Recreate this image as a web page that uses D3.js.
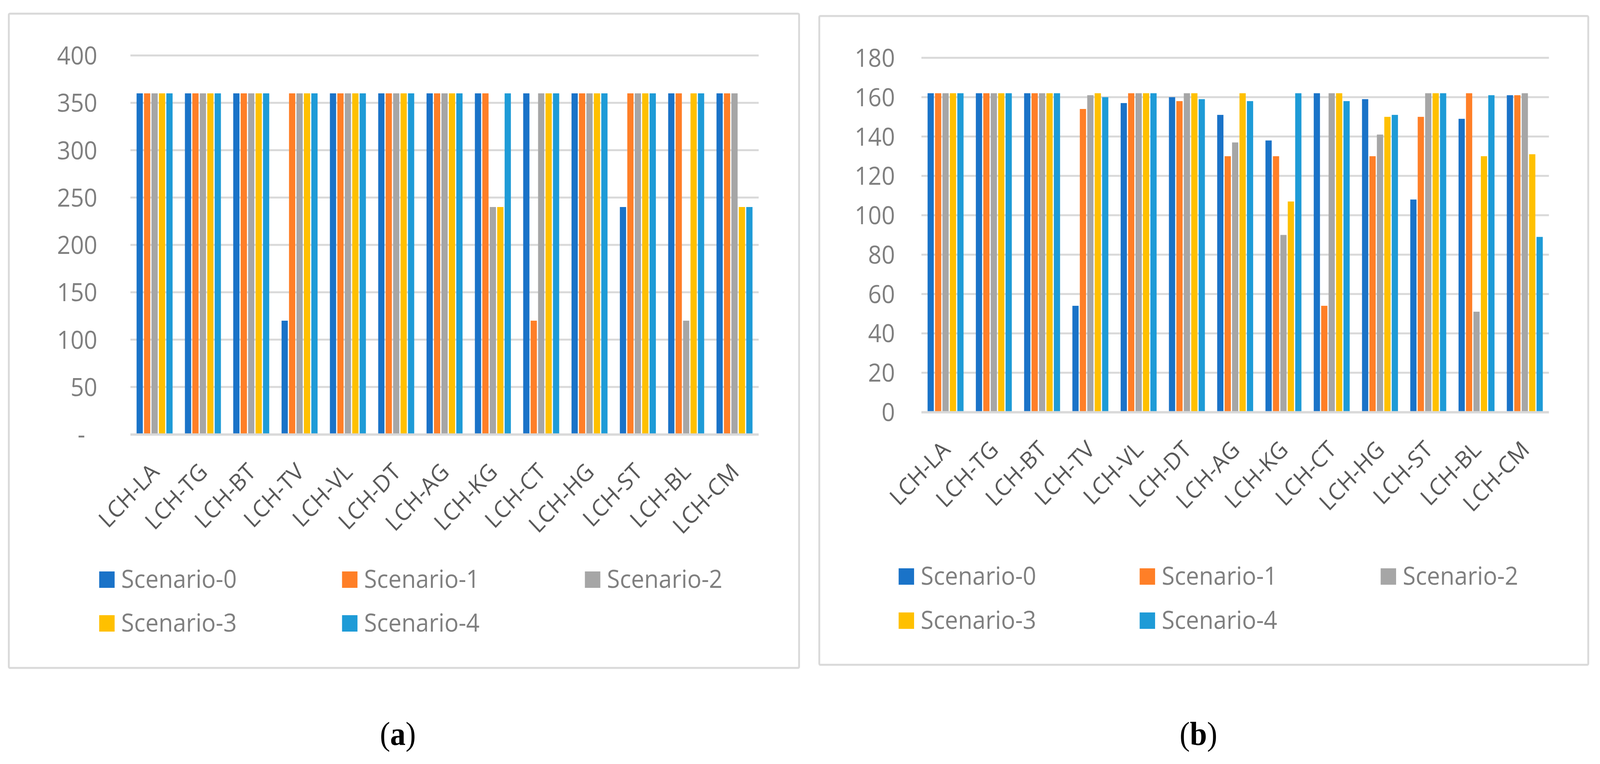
<!DOCTYPE html>
<html><head><meta charset="utf-8">
<script src="https://cdn.jsdelivr.net/npm/d3@7"></script>
<style>html,body{margin:0;padding:0;background:#fff;overflow:hidden} svg{display:block;width:100vw;height:100vh}</style>
</head><body><svg id="c" viewBox="0 0 4355 1956" preserveAspectRatio="none"></svg>
<script>
// ---- data ----
const categories = ["LCH-LA","LCH-TG","LCH-BT","LCH-TV","LCH-VL","LCH-DT","LCH-AG","LCH-KG","LCH-CT","LCH-HG","LCH-ST","LCH-BL","LCH-CM"];
const seriesNames = ["Scenario-0","Scenario-1","Scenario-2","Scenario-3","Scenario-4"];
const seriesColors = ["#1a73c8","#ff7f27","#a6a6a6","#ffc000","#1e9bd7"];

// panel (a)
const a_s0 = [360,360,360,120,360,360,360,360,360,360,240,360,360];
const a_s1 = [360,360,360,360,360,360,360,360,120,360,360,360,360];
const a_s2 = [360,360,360,360,360,360,360,240,360,360,360,120,360];
const a_s3 = [360,360,360,360,360,360,360,240,360,360,360,360,240];
const a_s4 = [360,360,360,360,360,360,360,360,360,360,360,360,240];
const a_ticks = [0,50,100,150,200,250,300,350,400];
const a_tickLabels = ["-","50","100","150","200","250","300","350","400"];

// panel (b)
const b_s0 = [162,162,162,54,157,160,151,138,162,159,108,149,161];
const b_s1 = [162,162,162,154,162,158,130,130,54,130,150,162,161];
const b_s2 = [162,162,162,161,162,162,137,90,162,141,162,51,162];
const b_s3 = [162,162,162,162,162,162,162,107,162,150,162,130,131];
const b_s4 = [162,162,162,160,162,159,158,162,158,151,162,161,89];
const b_ticks = [0,20,40,60,80,100,120,140,160,180];
const b_tickLabels = ["0","20","40","60","80","100","120","140","160","180"];

const panelLabels = ["a","b"];

// ---- layout ----
const svg = d3.select("#c");
svg.append("rect").attr("width",4355).attr("height",1956).attr("fill","#fff");

const FONT = "'Open Sans', 'Noto Sans', sans-serif";
const GRID = "#d9d9d9";

const panels = [
  {series:[a_s0,a_s1,a_s2,a_s3,a_s4], ticks:a_ticks, tickLabels:a_tickLabels, max:400,
   box:[24,35,2175,1710], plot:[355,142,2065,1112], tickX:265,
   legX:270, legY:1463, legDX:661, legDY:112, cap:1083},
  {series:[b_s0,b_s1,b_s2,b_s3,b_s4], ticks:b_ticks, tickLabels:b_tickLabels, max:180,
   box:[2230,41,4323,1702], plot:[2508,148,4216,1055], tickX:2436,
   legX:2446, legY:1455, legDX:656, legDY:113, cap:3262}
];

panels.forEach((p, pi) => {
  const g = svg.append("g");
  const [bx0,by0,bx1,by1] = p.box;
  g.append("rect").attr("x",bx0).attr("y",by0).attr("width",bx1-bx0).attr("height",by1-by0)
    .attr("rx",3).attr("fill","#fff").attr("stroke",GRID).attr("stroke-width",5);

  const [px0,py0,px1,py1] = p.plot;
  const x0 = d3.scaleBand().domain(categories).range([px0,px1]).padding(0);
  const band = x0.bandwidth();
  const groupW = band*0.745;
  const x1 = d3.scaleBand().domain(seriesNames).range([(band-groupW)/2,(band+groupW)/2]).paddingInner(0.16);
  const y = d3.scaleLinear().domain([0,p.max]).range([py1,py0]);

  // gridlines
  g.append("g").selectAll("line").data(p.ticks.filter(t=>t>0)).join("line")
    .attr("x1",px0).attr("x2",px1).attr("y1",d=>y(d)).attr("y2",d=>y(d))
    .attr("stroke",GRID).attr("stroke-width",5);

  // y tick labels
  g.append("g").selectAll("text").data(p.ticks).join("text")
    .attr("x",(d,i)=> p.tickLabels[i]==="-" ? p.tickX-33 : p.tickX)
    .attr("y",d=>y(d)).attr("dy","0.36em")
    .attr("text-anchor","end").attr("font-family",FONT).attr("font-size",64).attr("fill","#7f7f7f")
    .text((d,i)=>p.tickLabels[i]);

  // bars
  const groups = g.append("g").selectAll("g").data(categories).join("g")
    .attr("transform",d=>`translate(${x0(d)},0)`);
  groups.selectAll("rect").data((c,ci)=> seriesNames.map((s,si)=>({s, si, v:p.series[si][ci]})))
    .join("rect")
    .attr("x",d=>x1(d.s)).attr("width",x1.bandwidth())
    .attr("y",d=>y(d.v)).attr("height",d=>y(0)-y(d.v))
    .attr("fill",d=>seriesColors[d.si]);

  // x axis line
  g.append("line").attr("x1",px0).attr("x2",px1).attr("y1",y(0)+0.5).attr("y2",y(0)+0.5)
    .attr("stroke",GRID).attr("stroke-width",6);

  // category labels
  g.append("g").selectAll("text").data(categories).join("text")
    .attr("transform",d=>`translate(${x0(d)+band/2+16},${y(0)+100}) rotate(-45)`)
    .attr("text-anchor","end").attr("font-family",FONT).attr("font-size",60).attr("fill","#595959")
    .text(d=>d);

  // legend
  const leg = g.append("g").selectAll("g").data(seriesNames).join("g")
    .attr("transform",(d,i)=>`translate(${p.legX+(i%3)*p.legDX},${p.legY+Math.floor(i/3)*p.legDY})`);
  leg.append("rect").attr("width",42).attr("height",42).attr("fill",(d,i)=>seriesColors[i]);
  leg.append("text").attr("x",60).attr("y",42).attr("font-family",FONT).attr("font-size",64)
    .attr("fill","#7f7f7f").text(d=>d);

  // panel caption
  const cap = svg.append("text").attr("x",p.cap).attr("y",1907).attr("text-anchor","middle")
    .attr("font-family","'Liberation Serif', 'Times New Roman', serif").attr("font-size",84).attr("fill","#000");
  cap.append("tspan").text("(");
  cap.append("tspan").attr("font-weight","bold").text(panelLabels[pi]);
  cap.append("tspan").text(")");
});
</script>
</body></html>
